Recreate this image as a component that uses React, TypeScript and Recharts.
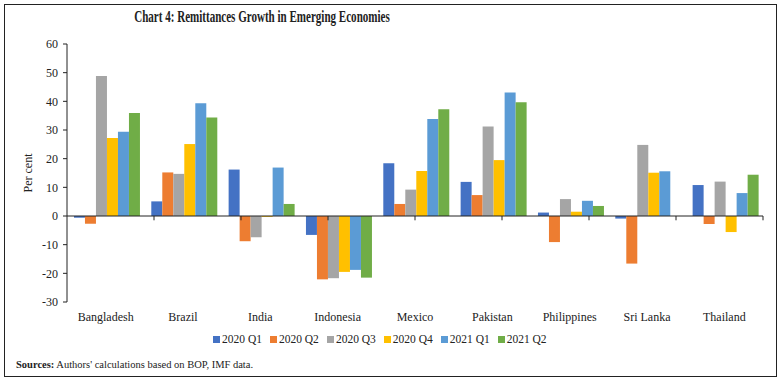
import React from 'react';
import { BarChart, Bar, XAxis, YAxis, ReferenceLine } from 'recharts';

const countries = ['Bangladesh', 'Brazil', 'India', 'Indonesia', 'Mexico', 'Pakistan', 'Philippines', 'Sri Lanka', 'Thailand'];
const q1_2020 = [-0.6, 5.1, 16.2, -6.6, 18.4, 11.9, 1.2, -0.9, 10.8];
const q2_2020 = [-2.7, 15.2, -8.8, -22.1, 4.2, 7.3, -9.1, -16.6, -2.8];
const q3_2020 = [48.8, 14.7, -7.4, -21.7, 9.2, 31.2, 5.9, 24.8, 12.0];
const q4_2020 = [27.2, 25.1, -0.3, -19.5, 15.7, 19.5, 1.5, 15.1, -5.6];
const q1_2021 = [29.4, 39.3, 16.9, -18.8, 33.8, 43.1, 5.3, 15.6, 8.0];
const q2_2021 = [35.9, 34.4, 4.2, -21.5, 37.2, 39.7, 3.5, 0, 14.4];
const yTicks = [-30, -20, -10, 0, 10, 20, 30, 40, 50, 60];

const seriesNames = ['2020 Q1', '2020 Q2', '2020 Q3', '2020 Q4', '2021 Q1', '2021 Q2'];
const seriesKeys = ['s1', 's2', 's3', 's4', 's5', 's6'];
const seriesColors = ['#4472C4', '#ED7D31', '#A5A5A5', '#FFC000', '#5B9BD5', '#70AD47'];
const seriesValues = [q1_2020, q2_2020, q3_2020, q4_2020, q1_2021, q2_2021];

const data = countries.map((c, i) => {
  const row: Record<string, any> = { name: c };
  seriesKeys.forEach((k, j) => { row[k] = seriesValues[j][i]; });
  return row;
});
const boundaries = countries.map((_, i) => i + 1);

const serif = '"Liberation Serif", "DejaVu Serif", serif';

export default function App() {
  return (
    <div style={{ position: 'absolute', left: 0, top: 0, width: 784, height: 384, background: '#fff', fontFamily: serif }}>
      <div style={{ position: 'absolute', left: 4, top: 4, width: 773, height: 373, border: '1.5px solid #222', boxSizing: 'border-box' }} />
      <div style={{ position: 'absolute', left: 0, top: 8, width: 524, textAlign: 'center', fontWeight: 'bold', fontSize: 16, color: '#222', transform: 'scaleX(0.69)', transformOrigin: '262px 0', whiteSpace: 'nowrap' }}>
        Chart 4: Remittances Growth in Emerging Economies
      </div>
      <div style={{ position: 'absolute', left: 28, top: 173, transform: 'translate(-50%, -50%) rotate(-90deg)', fontSize: 12, color: '#222', whiteSpace: 'nowrap' }}>
        Per cent
      </div>
      <div style={{ position: 'absolute', left: 16, top: 359, fontSize: 10.5, color: '#222' }}>
        <b>Sources:</b> Authors' calculations based on BOP, IMF data.
      </div>
      <div style={{ position: 'absolute', left: 213, top: 333, display: 'flex', fontSize: 11.5, color: '#222', whiteSpace: 'nowrap' }}>
        {seriesNames.map((n, j) => (
          <div key={n} style={{ display: 'flex', alignItems: 'center', marginRight: 8 }}>
            <span style={{ display: 'inline-block', width: 7, height: 7, background: seriesColors[j], marginRight: 2 }} />
            <span>{n}</span>
          </div>
        ))}
      </div>
      <BarChart
        width={784}
        height={384}
        data={data}
        margin={{ top: 44, right: 21, left: 35, bottom: 62 }}
        barCategoryGap="9%"
        barGap={0}
        style={{ position: 'absolute', left: 0, top: 0 }}
      >
        <XAxis
          dataKey="name"
          axisLine={false}
          tickLine={false}
          interval={0}
          height={20}
          tick={{ fill: '#222', fontSize: 12, fontFamily: serif }}
          tickMargin={4}
        />
        <XAxis xAxisId="grid" type="number" domain={[0, countries.length]} hide />
        <YAxis
          width={32}
          domain={[-30, 60]}
          ticks={yTicks}
          interval={0}
          axisLine={{ stroke: '#222' }}
          tickLine={{ stroke: '#222' }}
          tickSize={4}
          tickMargin={5}
          tick={{ fill: '#222', fontSize: 12, fontFamily: serif }}
        />
        {seriesKeys.map((k, j) => (
          <Bar key={k} dataKey={k} name={seriesNames[j]} fill={seriesColors[j]} isAnimationActive={false} />
        ))}
        <ReferenceLine y={0} stroke="#222" strokeWidth={1} />
        {boundaries.map((b) => (
          <ReferenceLine key={b} xAxisId="grid" segment={[{ x: b, y: 0 }, { x: b, y: -1.5 }]} stroke="#222" strokeWidth={1} />
        ))}
      </BarChart>
    </div>
  );
}
